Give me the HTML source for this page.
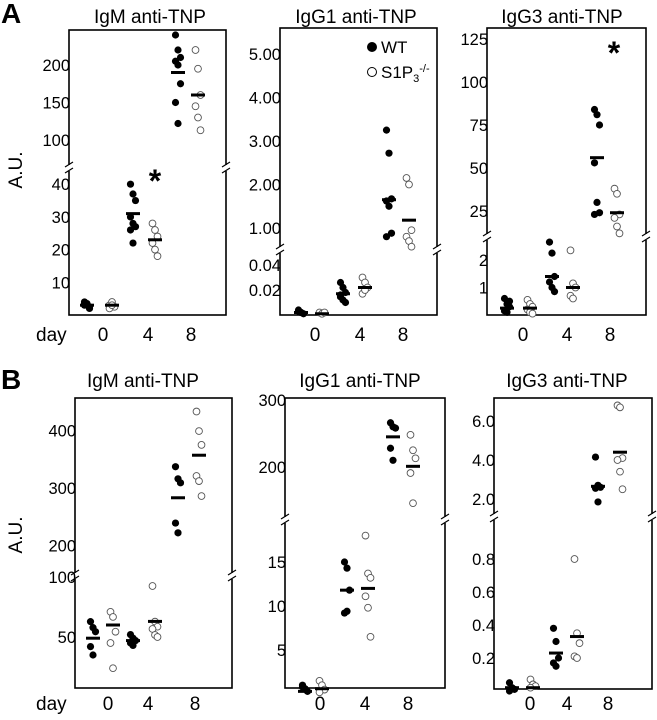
<!DOCTYPE html>
<html><head><meta charset="utf-8">
<style>
html,body{margin:0;padding:0;background:#fff;}
svg{display:block;font-family:"Liberation Sans",Arial,sans-serif;}
</style></head>
<body>
<svg id="fig" width="657" height="720" viewBox="0 0 657 720" xmlns="http://www.w3.org/2000/svg">
<rect width="657" height="720" fill="#fff"/>
</svg>
<script>
// ---- Data (A.U. values) ----
const days = ["0","4","8"];
// Panel A1 IgM
const a1WT = [[3,3.5,2.5,4,3,2,3.5],[40,37,35,30,28,27,26,22],[240,220,210,205,200,175,150,122]];
const a1KO = [[3,4,2.5,2,3],[28,26,24,22,20,18],[220,195,160,145,130,113]];
const a1WTmean = [3,31,190];
const a1KOmean = [3,23,160];
// Panel A2 IgG1
const a2WT = [[0.004,0.002,0.001,0.003,0.002],[0.026,0.022,0.018,0.0145,0.012,0.01,0.016],[3.25,2.72,1.67,1.62,1.5,0.88,0.8]];
const a2KO = [[0.002,0.001,0.002],[0.03,0.026,0.022,0.017,0.02],[2.15,2.0,0.95,0.8,0.7,0.57]];
const a2WTmean = [0.002,0.017,1.65];
const a2KOmean = [0.001,0.022,1.18];
// Panel A3 IgG3
const a3WT = [[0.6,0.4,0.3,0.15,0.1,0.5],[2.65,2.25,1.4,1.2,1.0,0.85],[84,81,75,53,30,24,23]];
const a3KO = [[0.55,0.4,0.3,0.2,0.1,0.05],[2.35,1.15,1.0,0.7,0.6],[38,35,23,21,16,12]];
const a3WTmean = [0.25,1.4,56];
const a3KOmean = [0.25,1.0,24];
// Panel B1 IgM
const b1WT = [[62.8,57.8,54.4,42,35],[52,49,47,45,43],[337,316,309,239,222]];
const b1KO = [[71,66.7,54.4,45,24],[92.5,62.8,58.6,56.7,51.7,50],[433,399,375,321,312,286]];
const b1WTmean = [49,47,283];
const b1KOmean = [60,63,357];
// Panel B2 IgG1
const b2WT = [[1,0.6,0.3,0.8],[15,14.3,11.8,9.2,9.4],[266,260,258,228,210]];
const b2KO = [[1.5,1,0.5,0.2],[18,13.7,13.2,11.1,9.8,6.5],[248,225,213,191,146]];
const b2WTmean = [0.3,11.8,245];
const b2KOmean = [0.6,12,201];
// Panel B3 IgG3
const b3WT = [[0.05,0.02,0.01,0.0],[0.38,0.30,0.2,0.17,0.15],[4.15,2.7,2.6,2.55,1.85]];
const b3KO = [[0.07,0.04,0.03,0.02],[0.8,0.35,0.29,0.21,0.2],[6.8,6.7,4.1,4.0,3.4,2.5]];
const b3WTmean = [0.02,0.23,2.65];
const b3KOmean = [0.02,0.33,4.4];
// Tick labels
const a1UpTicks = ["200","150","100"], a1LoTicks = ["40","30","20","10"];
const a2UpTicks = ["5.00","4.00","3.00","2.00","1.00"], a2LoTicks = ["0.04","0.02"];
const a3UpTicks = ["125","100","75","50","25"], a3LoTicks = ["2","1"];
const b1UpTicks = ["400","300","200"], b1LoTicks = ["100","50"];
const b2UpTicks = ["300","200"], b2LoTicks = ["15","10","5"];
const b3UpTicks = ["6.0","4.0","2.0"], b3LoTicks = ["0.8","0.6","0.4","0.2"];

const NS = "http://www.w3.org/2000/svg";
const svg = document.getElementById("fig");
function mk(tag, attrs, parent){
  const e = document.createElementNS(NS, tag);
  for (const k in attrs) e.setAttribute(k, attrs[k]);
  (parent||svg).appendChild(e);
  return e;
}

// Layout configs (geometry only)
const panels = [
 {id:"a1", title:"IgM anti-TNP", tx:150, ty:23, L:69,R:226,T:30,B:315,brk:168,
  up:{v0:200,y0:65,k:0.75}, lo:{v0:0,y0:315,k:3.27}, bv:50,
  wt:a1WT, ko:a1KO, wm:a1WTmean, km:a1KOmean, ut:a1UpTicks, lt:a1LoTicks,
  wx:[87,133,178], kx:[112,155,198], lx:[103,148,191], ly:341},
 {id:"a2", title:"IgG1 anti-TNP", tx:356, ty:23, L:280,R:437,T:28,B:315,brk:250,
  up:{v0:5,y0:54,k:43.5}, lo:{v0:0,y0:315,k:1250}, bv:0.1,
  wt:a2WT, ko:a2KO, wm:a2WTmean, km:a2KOmean, ut:a2UpTicks, lt:a2LoTicks,
  wx:[301,343,389], kx:[322,365,409], lx:[315,360,403], ly:341},
 {id:"a3", title:"IgG3 anti-TNP", tx:562, ty:23, L:487,R:646,T:28,B:315,brk:237,
  up:{v0:100,y0:82,k:1.72}, lo:{v0:0,y0:315,k:27.5}, bv:5,
  wt:a3WT, ko:a3KO, wm:a3WTmean, km:a3KOmean, ut:a3UpTicks, lt:a3LoTicks,
  wx:[507,552,597], kx:[530,573,617], lx:[523,567,610], ly:341},
 {id:"b1", title:"IgM anti-TNP", tx:143, ty:387, L:75,R:232,T:398,B:688,brk:576,
  up:{v0:300,y0:488,k:0.575}, lo:{v0:0,y0:697,k:1.2}, bv:120,
  wt:b1WT, ko:b1KO, wm:b1WTmean, km:b1KOmean, ut:b1UpTicks, lt:b1LoTicks,
  wx:[93,133,178], kx:[113,155,199], lx:[108,148,195], ly:710},
 {id:"b2", title:"IgG1 anti-TNP", tx:360, ty:387, L:285,R:445,T:398,B:688,brk:520,
  up:{v0:200,y0:467,k:0.67}, lo:{v0:0,y0:694,k:8.8}, bv:50,
  wt:b2WT, ko:b2KO, wm:b2WTmean, km:b2KOmean, ut:b2UpTicks, lt:b2LoTicks,
  wx:[305,347,393], kx:[322,368,413], lx:[320,365,408], ly:710},
 {id:"b3", title:"IgG3 anti-TNP", tx:567, ty:387, L:494,R:652,T:398,B:689,brk:517,
  up:{v0:4,y0:460,k:19.5}, lo:{v0:0,y0:691,k:165}, bv:1.0,
  wt:b3WT, ko:b3KO, wm:b3WTmean, km:b3KOmean, ut:b3UpTicks, lt:b3LoTicks,
  wx:[512,556,598], kx:[533,577,620], lx:[530,567,608], ly:710}
];

function yScale(p, v){
  if (v >= p.bv) return p.up.y0 - (v - p.up.v0)*p.up.k;
  return p.lo.y0 - (v - p.lo.v0)*p.lo.k;
}

function breakMark(g, x, y){
  mk("rect",{x:x-4,y:y-3,width:8,height:6,fill:"#fff"},g);
  mk("line",{x1:x-4,y1:y-1,x2:x+4,y2:y-6,stroke:"#000","stroke-width":1.2},g);
  mk("line",{x1:x-4,y1:y+5,x2:x+4,y2:y,stroke:"#000","stroke-width":1.2},g);
}

panels.forEach(p=>{
  const g = mk("g",{});
  
  
  const t = mk("text",{x:p.tx,y:p.ty,"text-anchor":"middle","font-size":19},g);
  
  
  t.textContent = p.title;
  const frame = mk("g",{},g);
  
  
  mk("rect",{x:p.L,y:p.T,width:p.R-p.L,height:p.B-p.T,fill:"none",stroke:"#000","stroke-width":1.6},frame);
  const ticks = mk("g",{},g);
  
  
  const addTick = (lab)=>{
    const v = parseFloat(lab);
    const y = yScale(p, v);
    const tt = mk("text",{x:p.L+1,y:y+6,"text-anchor":"end","font-size":16.5},ticks);
    
    
    tt.textContent = lab;
  };
  p.ut.forEach(addTick); p.lt.forEach(addTick);
  breakMark(frame,p.L,p.brk);
  breakMark(frame,p.R,p.brk);
  days.forEach((d,i)=>{
    const dl = mk("text",{x:p.lx[i],y:p.ly,"text-anchor":"middle","font-size":19},g);
    
    
    dl.textContent = d;
  });
  const drawSeries = (vals, xs, means, filled)=>{
    vals.forEach((arr,i)=>{
      arr.forEach((v,j)=>{
        const dx = ((j%3)-1)*2.5;
        const c = mk("circle",{cx:xs[i]+dx,cy:yScale(p,v),r:filled?3.6:3.4,
          fill:filled?"#000":"#fff",stroke:filled?"#000":"#555","stroke-width":filled?0:0.9},g);
        
        
      });
      const m = mk("rect",{x:xs[i]-7,y:yScale(p,means[i])-1.5,width:14,height:3,fill:"#000"},g);
      
      
    });
  };
  drawSeries(p.wt,p.wx,p.wm,true);
  drawSeries(p.ko,p.kx,p.km,false);
});

// day labels, A.U., panel letters
[[36,341],[36,710]].forEach(([x,y])=>{
  const d = mk("text",{x:x,y:y,"font-size":19});
  
  
  d.textContent = "day";
});
[[22,170],[22,535]].forEach(([x,y])=>{
  const a = mk("text",{x:x,y:y,"font-size":19,"text-anchor":"middle",transform:"rotate(-90 "+x+" "+y+")"});
  
  
  a.textContent = "A.U.";
});
[["A",1,23],["B",1,389]].forEach(([s,x,y])=>{
  const l = mk("text",{x:x,y:y,"font-size":28,"font-weight":"bold"});
  
  
  l.textContent = s;
});
// significance stars
[[155,192],[614,64]].forEach(([x,y])=>{
  const s = mk("text",{x:x,y:y,"font-size":32,"font-weight":"bold","text-anchor":"middle"});
  
  
  s.textContent = "*";
});
// legend
const lg = mk("g",{});


mk("circle",{cx:372,cy:47,r:5,fill:"#000"},lg);
const lt1 = mk("text",{x:381,y:53,"font-size":17},lg);


lt1.textContent = "WT";
mk("circle",{cx:372,cy:72,r:4.5,fill:"#fff",stroke:"#000","stroke-width":1},lg);
const lt2 = mk("text",{x:381,y:78,"font-size":17},lg);


lt2.innerHTML = 'S1P<tspan font-size="11" dy="4">3</tspan><tspan font-size="11" dy="-10">-/-</tspan>';
</script>
</body></html>
